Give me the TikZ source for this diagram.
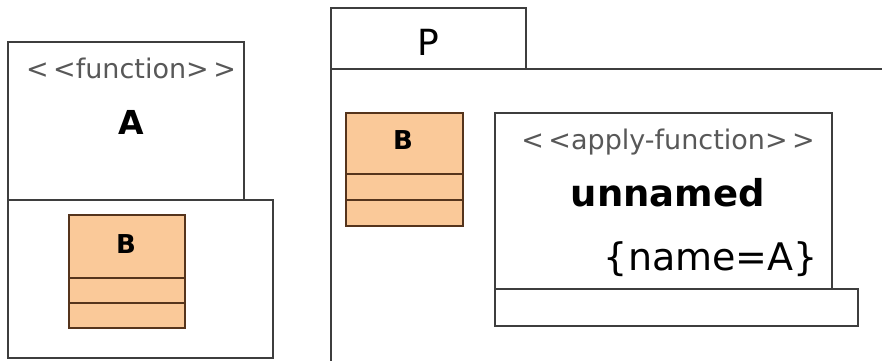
\documentclass[tikz,border=0pt]{standalone}
\usepackage{fontspec}
\setmainfont{DejaVu Sans}
\usetikzlibrary{positioning}
\definecolor{classfill}{RGB}{250,201,153}
\definecolor{classline}{RGB}{85,52,28}
\definecolor{frameline}{RGB}{62,62,62}
\definecolor{stereo}{RGB}{88,88,88}
\tikzset{
  frame/.style={draw=frameline,line width=1.4pt,fill=white,inner sep=0pt,outer sep=0pt,anchor=north west},
  classpart/.style={draw=classline,line width=1.2pt,fill=classfill,inner sep=0pt,outer sep=0pt,anchor=north west,minimum width=#1},
  stereotxt/.style={inner sep=0pt,text=stereo,font=\fontsize{27}{30}\selectfont},
  nametxt/.style={inner sep=0pt,font=\fontsize{#1}{40}\selectfont\bfseries},
  classtxt/.style={inner sep=0pt,font=\fontsize{26}{28}\selectfont\bfseries}
}
\begin{document}
\begin{tikzpicture}[x=1pt,y=-1pt,line join=miter]
                        \useasboundingbox (0,0) rectangle (882,360);

                        \node[frame,minimum width=236pt,minimum height=158pt] (funcA) at (8,42) {};
                        \node[frame,minimum width=265pt,minimum height=158pt] (funcbody) at (8,200) {};
                        \node[stereotxt,anchor=base] (stA) at (131,78) {<\,<function>\,>};
                        \node[nametxt=33,anchor=base] (nameA) at (131,134) {A};

                        \node[classpart=116pt,minimum height=63pt] (Bleft) at (69,215) {};
                        \node[classpart=116pt,minimum height=25pt,below=0pt of Bleft.south west,anchor=north west] (Bleftattr) {};
                        \node[classpart=116pt,minimum height=25pt,below=0pt of Bleftattr.south west,anchor=north west] (Bleftop) {};
                        \node[classtxt,anchor=base] (Blefttxt) at (126,253) {B};

                        \node[frame,minimum width=195pt,minimum height=61pt] (tabP) at (331,8) {};
                        \draw[draw=frameline,line width=1.4pt] (882,69) -- (tabP.south east) -- (tabP.south west) -- (331,361);
                        \node[inner sep=0pt,anchor=base,font=\fontsize{36}{38}\selectfont] (nameP) at (428,55) {P};

                        \node[classpart=117pt,minimum height=61pt] (Bright) at (346,113) {};
                        \node[classpart=117pt,minimum height=26pt,below=0pt of Bright.south west,anchor=north west] (Brightattr) {};
                        \node[classpart=117pt,minimum height=26pt,below=0pt of Brightattr.south west,anchor=north west] (Brightop) {};
                        \node[classtxt,anchor=base] (Brighttxt) at (403,149) {B};

                        \node[frame,minimum width=337pt,minimum height=176pt] (applyF) at (495,113) {};
                        \node[frame,minimum width=363pt,minimum height=37pt,below=0pt of applyF.south west,anchor=north west] (applybar) {};
                        \node[stereotxt,anchor=base] (stApply) at (668,149) {<\,<apply-function>\,>};
                        \node[nametxt=37,anchor=base] (unnamed) at (668,206) {unnamed};
                        \node[inner sep=0pt,anchor=base east,font=\fontsize{38}{40}\selectfont] (tagA) at (818,270) {\{name=A\}};
                    \end{tikzpicture}
\end{document}
